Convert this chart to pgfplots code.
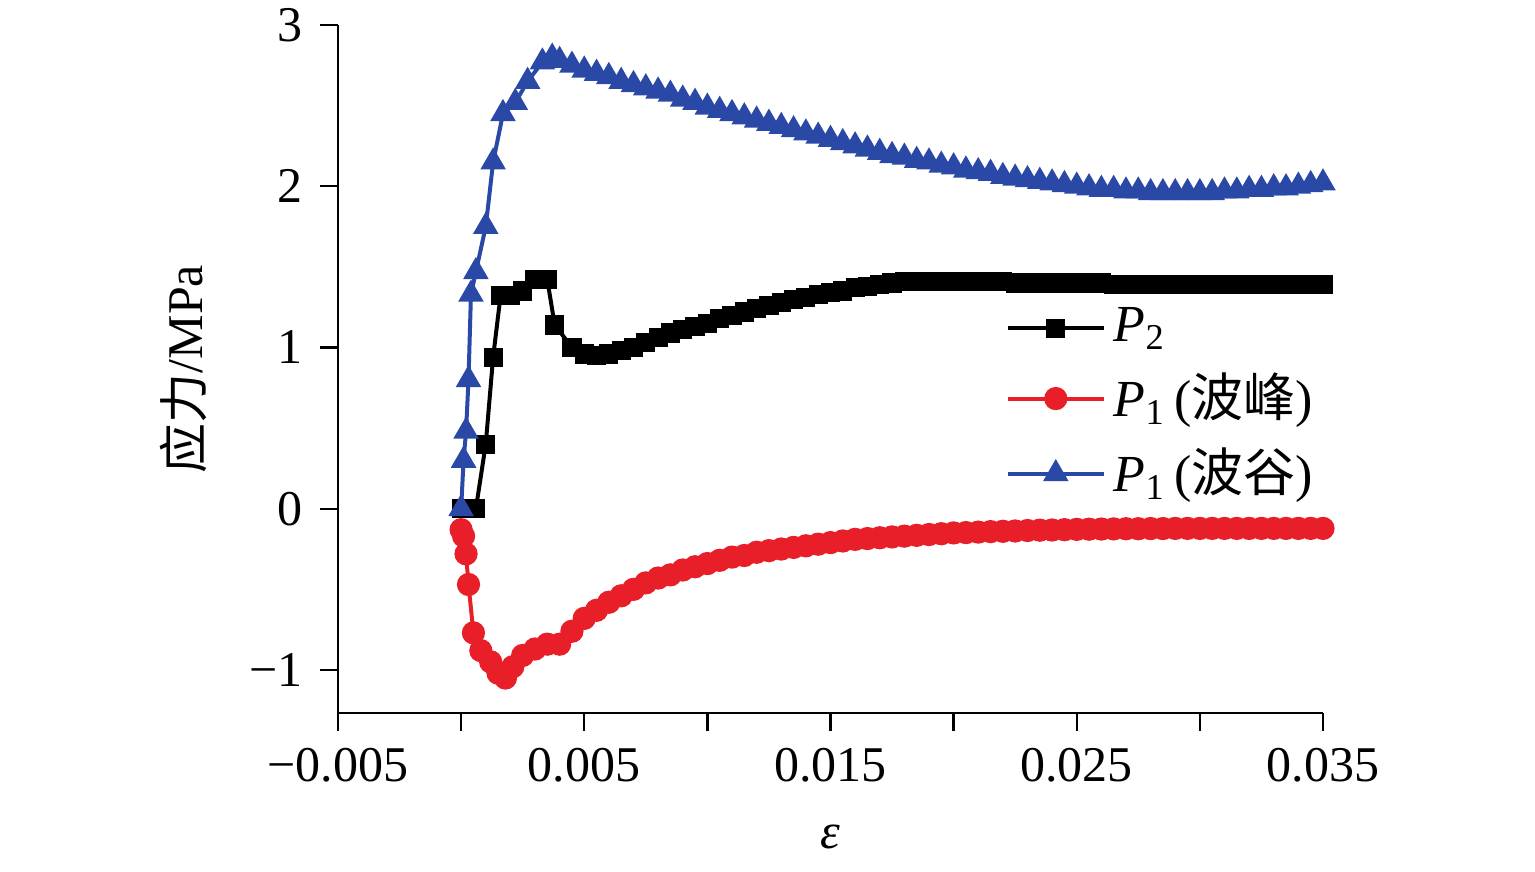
\documentclass[border=0pt]{standalone}
\usepackage{pgfplots}
\pgfplotsset{compat=1.18}
\usepackage{fontspec}
\setmainfont{Liberation Serif}
\newfontfamily\cjk{Noto Sans CJK SC}
\definecolor{cred}{RGB}{232,30,40}
\definecolor{cblue}{RGB}{42,72,165}
\begin{document}
\fontsize{12.5}{15}\selectfont
\begin{tikzpicture}
\useasboundingbox (-84.5pt,-39.5pt) rectangle (299.25pt,178.25pt);
\begin{axis}[
  at={(0,0)}, anchor=south west, scale only axis,
  width=246.25pt, height=172pt,
  xmin=-0.005, xmax=0.035, ymin=-1.267, ymax=3,
  axis lines=left, axis line style={-, line width=0.6pt},
  xtick={-0.005,0.005,0.015,0.025,0.035},
  xticklabels={−0.005,0.005,0.015,0.025,0.035},
  minor xtick={0,0.01,0.02,0.03},
  ytick={-1,0,1,2,3}, yticklabels={−1,0,1,2,3},
  tick align=outside, major tick length=4.5pt, minor tick length=4.5pt,
  tick style={line width=0.6pt, black},
  scaled x ticks=false,
  xlabel={\textit{ε}}, ylabel={{\cjk 应力}/MPa},
  xlabel style={yshift=-2pt},
  ylabel style={yshift=2pt},
  legend style={draw=none, fill=none, at={(0.665,0.45)}, anchor=west,
    row sep=2pt, font=\fontsize{13}{15}\selectfont},
  legend cell align=left,
  legend image post style={line width=1pt},
  legend image code/.code={\draw[#1] (0pt,0pt) -- (12pt,0pt) (12pt,0pt) -- (24pt,0pt); \draw[#1,only marks] plot coordinates {(12pt,0pt)};},
]
\addplot[black, line width=1pt, mark=square*, mark size=1.9pt] coordinates {
(0,0)(0.0006,0)(0.001,0.4)(0.0013,0.94)(0.0016,1.32)(0.002,1.32)(0.0025,1.35)(0.003,1.42)(0.0035,1.42)(0.0038,1.14)(0.0045,1.0)(0.005,0.96)(0.0055,0.95)(0.006,0.96)(0.0065,0.98)(0.007,1.0)(0.0075,1.03)(0.008,1.06)(0.0085,1.09)(0.009,1.11)(0.0095,1.13)(0.01,1.15)(0.0105,1.18)(0.011,1.20)(0.0115,1.22)(0.012,1.24)(0.0125,1.26)(0.013,1.28)(0.0135,1.30)(0.014,1.31)(0.0145,1.33)(0.015,1.34)(0.0155,1.35)(0.016,1.37)(0.0165,1.38)(0.017,1.39)(0.0175,1.40)(0.018,1.41)(0.0185,1.41)(0.019,1.41)(0.0195,1.41)(0.02,1.41)(0.0205,1.41)(0.021,1.41)(0.0215,1.41)(0.022,1.41)(0.0225,1.40)(0.023,1.40)(0.0235,1.40)(0.024,1.40)(0.0245,1.40)(0.025,1.40)(0.0255,1.40)(0.026,1.40)(0.0265,1.39)(0.027,1.39)(0.0275,1.39)(0.028,1.39)(0.0285,1.39)(0.029,1.39)(0.0295,1.39)(0.03,1.39)(0.0305,1.39)(0.031,1.39)(0.0315,1.39)(0.032,1.39)(0.0325,1.39)(0.033,1.39)(0.0335,1.39)(0.034,1.39)(0.0345,1.39)(0.035,1.39)};
\addlegendentry{\textit{P}\textsubscript{2}}
\addplot[cred, line width=1pt, mark=*, mark size=2.4pt] coordinates {
(0,-0.13)(0.0001,-0.17)(0.0002,-0.28)(0.0003,-0.47)(0.0005,-0.77)(0.0008,-0.88)(0.0012,-0.95)(0.0015,-1.02)(0.0018,-1.05)(0.0021,-0.98)(0.0025,-0.91)(0.003,-0.87)(0.0035,-0.84)(0.004,-0.84)(0.0045,-0.76)(0.005,-0.68)(0.0055,-0.63)(0.006,-0.58)(0.0065,-0.54)(0.007,-0.50)(0.0075,-0.46)(0.008,-0.43)(0.0085,-0.41)(0.009,-0.38)(0.0095,-0.36)(0.01,-0.34)(0.0105,-0.32)(0.011,-0.30)(0.0115,-0.29)(0.012,-0.27)(0.0125,-0.26)(0.013,-0.25)(0.0135,-0.24)(0.014,-0.23)(0.0145,-0.22)(0.015,-0.21)(0.0155,-0.20)(0.016,-0.19)(0.0165,-0.185)(0.017,-0.18)(0.0175,-0.175)(0.018,-0.17)(0.0185,-0.165)(0.019,-0.16)(0.0195,-0.155)(0.02,-0.15)(0.0205,-0.148)(0.021,-0.145)(0.0215,-0.142)(0.022,-0.14)(0.0225,-0.138)(0.023,-0.135)(0.0235,-0.133)(0.024,-0.132)(0.0245,-0.13)(0.025,-0.128)(0.0255,-0.127)(0.026,-0.126)(0.0265,-0.125)(0.027,-0.124)(0.0275,-0.124)(0.028,-0.123)(0.0285,-0.123)(0.029,-0.122)(0.0295,-0.122)(0.03,-0.122)(0.0305,-0.122)(0.031,-0.122)(0.0315,-0.122)(0.032,-0.122)(0.0325,-0.122)(0.033,-0.122)(0.0335,-0.122)(0.034,-0.122)(0.0345,-0.122)(0.035,-0.122)};
\addlegendentry{\textit{P}\textsubscript{1}\,({\cjk 波峰})}
\addplot[cblue, line width=1pt, mark=triangle*, mark size=2.7pt] coordinates {
(0,0)(0.0001,0.3)(0.0002,0.48)(0.0003,0.8)(0.0004,1.33)(0.0006,1.47)(0.001,1.75)(0.0013,2.15)(0.0017,2.45)(0.0022,2.52)(0.0027,2.65)(0.0033,2.77)(0.0037,2.8)(0.004,2.78)(0.0045,2.75)(0.005,2.72)(0.0055,2.70)(0.006,2.68)(0.0065,2.65)(0.007,2.63)(0.0075,2.61)(0.008,2.59)(0.0085,2.57)(0.009,2.54)(0.0095,2.52)(0.01,2.49)(0.0105,2.47)(0.011,2.45)(0.0115,2.43)(0.012,2.41)(0.0125,2.39)(0.013,2.37)(0.0135,2.35)(0.014,2.33)(0.0145,2.31)(0.015,2.29)(0.0155,2.27)(0.016,2.25)(0.0165,2.23)(0.017,2.21)(0.0175,2.19)(0.018,2.18)(0.0185,2.16)(0.019,2.15)(0.0195,2.13)(0.02,2.12)(0.0205,2.10)(0.021,2.09)(0.0215,2.08)(0.022,2.06)(0.0225,2.05)(0.023,2.04)(0.0235,2.03)(0.024,2.02)(0.0245,2.01)(0.025,2.00)(0.0255,1.99)(0.026,1.98)(0.0265,1.98)(0.027,1.97)(0.0275,1.97)(0.028,1.96)(0.0285,1.96)(0.029,1.96)(0.0295,1.96)(0.03,1.96)(0.0305,1.96)(0.031,1.97)(0.0315,1.97)(0.032,1.98)(0.0325,1.98)(0.033,1.99)(0.0335,1.99)(0.034,2.00)(0.0345,2.01)(0.035,2.02)};
\addlegendentry{\textit{P}\textsubscript{1}\,({\cjk 波谷})}
\end{axis}
\end{tikzpicture}
\end{document}
